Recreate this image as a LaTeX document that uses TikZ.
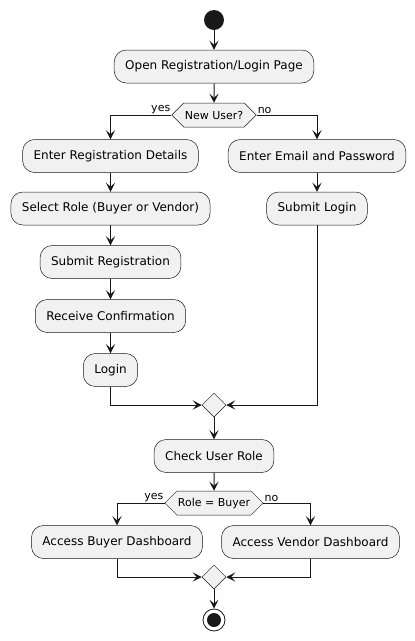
\documentclass[tikz,border=0pt]{standalone}
\usepackage{fontspec}
\setmainfont{DejaVu Sans}
\usetikzlibrary{arrows.meta,shapes.geometric,shapes.symbols}
\definecolor{fillc}{HTML}{F1F1F1}
\definecolor{linec}{HTML}{181818}
\definecolor{borderc}{HTML}{181818}
\begin{document}
\begin{tikzpicture}[x=1pt,y=-1pt,
  act/.style={draw=borderc,line width=0.5pt,fill=fillc,rounded corners=12pt,minimum height=33pt,inner xsep=11pt,font=\fontsize{12}{14}\selectfont},
  dec/.style={draw=borderc,line width=0.5pt,fill=fillc,signal,signal to=west and east,signal pointer angle=90,minimum height=24pt,inner xsep=1pt,font=\fontsize{11}{13}\selectfont},
  mrg/.style={draw=borderc,line width=0.5pt,fill=fillc,diamond,minimum size=24pt,inner sep=0pt},
  arr/.style={draw=linec,line width=1pt,-{Stealth[length=9pt,width=9pt,inset=4pt]}},
  lbl/.style={font=\fontsize{11}{13}\selectfont,inner sep=1pt}]
\useasboundingbox (0,0) rectangle (415,641);
\node[circle,fill=linec,minimum size=20pt,inner sep=0pt] (start) at (214,20) {};
\node[act] (open) at (214,66.5) {Open Registration/Login Page};
\node[dec] (d1) at (214,115) {New User?};
\node[act] (reg) at (110.5,156) {Enter Registration Details};
\node[act] (role) at (110.5,208.5) {Select Role (Buyer or Vendor)};
\node[act] (subreg) at (110.5,262) {Submit Registration};
\node[act] (conf) at (110.5,316) {Receive Confirmation};
\node[act] (login) at (110.5,370) {Login};
\node[act] (email) at (317,156) {Enter Email and Password};
\node[act] (sublogin) at (317,208.5) {Submit Login};
\node[mrg] (m1) at (214,405) {};
\node[act] (check) at (214,456) {Check User Role};
\node[dec] (d2) at (214,503) {Role = Buyer};
\node[act] (buyer) at (117,542) {Access Buyer Dashboard};
\node[act] (vendor) at (310.5,542) {Access Vendor Dashboard};
\node[mrg] (m2) at (214,577) {};
\node[circle,draw=linec,line width=0.8pt,fill=white,minimum size=22pt,inner sep=0pt] (end) at (214,620) {};
\node[circle,fill=linec,minimum size=14pt,inner sep=0pt] (endin) at (end.center) {};

\draw[arr] (start) -- (open);
\draw[arr] (open) -- (d1);
\draw[arr] (d1.west) -| (reg.north);
\draw[arr] (d1.east) -| (email.north);
\node[lbl,anchor=south east] (yes1) at (d1.west) {yes};
\node[lbl,anchor=south west] (no1) at (d1.east) {no};
\draw[arr] (reg) -- (role);
\draw[arr] (role) -- (subreg);
\draw[arr] (subreg) -- (conf);
\draw[arr] (conf) -- (login);
\draw[arr] (email) -- (sublogin);
\draw[arr] (login.south) |- (m1.west);
\draw[arr] (sublogin.south) |- (m1.east);
\draw[arr] (m1) -- (check);
\draw[arr] (check) -- (d2);
\draw[arr] (d2.west) -| (buyer.north);
\draw[arr] (d2.east) -| (vendor.north);
\node[lbl,anchor=south east] (yes2) at (d2.west) {yes};
\node[lbl,anchor=south west] (no2) at (d2.east) {no};
\draw[arr] (buyer.south) |- (m2.west);
\draw[arr] (vendor.south) |- (m2.east);
\draw[arr] (m2) -- (end);
\end{tikzpicture}
\end{document}
